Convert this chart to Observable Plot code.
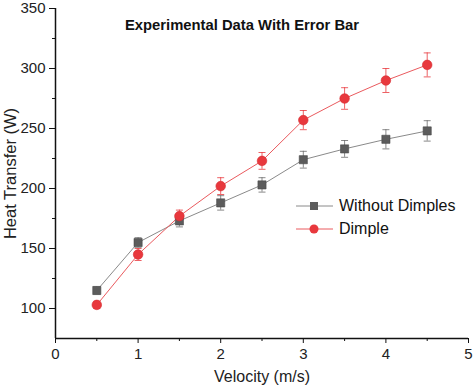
<!DOCTYPE html>
<html>
<head>
<meta charset="utf-8">
<script src="https://cdn.jsdelivr.net/npm/d3@7"></script>
<script src="https://cdn.jsdelivr.net/npm/@observablehq/plot@0.6"></script>
<style>
  html, body { margin: 0; padding: 0; background: #fff; }
  #wrap { position: relative; width: 474px; height: 392px; font-family: "Liberation Sans", Arial, sans-serif; }
  #legend { position: absolute; left: 296px; top: 194px; font-size: 16px; color: #111; }
  #legend .row { display: flex; align-items: center; height: 23px; }
  #legend svg { margin-right: 6px; }
</style>
</head>
<body>
<div id="wrap"></div>
<script>
const velocity = [0.5, 1, 1.5, 2, 2.5, 3, 3.5, 4, 4.5];
const withoutDimples = [115, 155, 173, 188, 203, 224, 233, 241, 248];
const withoutErr = [3, 4, 5, 6, 6, 7, 7, 8, 8.5];
const dimple = [103, 145, 177, 202, 223, 257, 275, 290, 303];
const dimpleErr = [3, 5, 5, 7, 7, 8, 9, 10, 10];
const seriesNames = ["Without Dimples", "Dimple"];
const xTicks = [0, 1, 2, 3, 4, 5];
const xMinor = [0.5, 1.5, 2.5, 3.5, 4.5];
const yTicks = [100, 150, 200, 250, 300, 350];
const yMinor = [125, 175, 225, 275, 325];

const gray = "#5c5c5c", grayLine = "#8a8a8a";
const red = "#e8383d", redLine = "#ea5a5e";

const A = velocity.map((v, i) => ({x: v, y: withoutDimples[i], e: withoutErr[i]}));
const B = velocity.map((v, i) => ({x: v, y: dimple[i], e: dimpleErr[i]}));

const capSymbol = {
  draw(ctx, size) {
    const r = Math.sqrt(size / Math.PI);
    ctx.moveTo(-r, 0); ctx.lineTo(r, 0);
  }
};

function errMarks(data, color) {
  return [
    Plot.ruleX(data, {x: "x", y1: d => d.y - d.e, y2: d => d.y + d.e, stroke: color, strokeWidth: 0.8}),
    Plot.dot(data, {x: "x", y: d => d.y - d.e, symbol: capSymbol, r: 3.5, stroke: color, strokeWidth: 0.8, fill: "none"}),
    Plot.dot(data, {x: "x", y: d => d.y + d.e, symbol: capSymbol, r: 3.5, stroke: color, strokeWidth: 0.8, fill: "none"})
  ];
}

const noLabel = () => "";

const chart = Plot.plot({
  width: 474,
  height: 392,
  marginLeft: 55,
  marginRight: 6,
  marginTop: 8,
  marginBottom: 54,
  style: {fontFamily: "Liberation Sans, Arial, sans-serif", background: "#fff", color: "#111"},
  x: {domain: [0, 5]},
  y: {domain: [75, 350]},
  marks: [
    Plot.axisX({ticks: xTicks, tickSize: 5, tickPadding: 5, fontSize: 15, fill: "#222", label: null, tickFormat: d => String(d)}),
    Plot.axisX({ticks: xMinor, tickSize: 3, tickFormat: noLabel, label: null}),
    Plot.axisY({ticks: yTicks, tickSize: 6, tickPadding: 4, fontSize: 15, fill: "#222", label: null}),
    Plot.axisY({ticks: yMinor, tickSize: 3, tickFormat: noLabel, label: null}),
    Plot.ruleY([75], {stroke: "#111", strokeWidth: 1.5}),
    Plot.ruleX([0], {stroke: "#111", strokeWidth: 1.5}),
    Plot.text(["Velocity (m/s)"], {frameAnchor: "bottom", dy: 43, fontSize: 16, fill: "#222"}),
    Plot.text(["Heat Transfer (W)"], {frameAnchor: "left", textAnchor: "middle", dx: -45, rotate: -90, fontSize: 16.5, fill: "#222"}),
    Plot.text(["Experimental Data With Error Bar"], {frameAnchor: "top", dy: 11, dx: -20, fontSize: 14.8, fontWeight: "bold", fill: "#111"}),
    ...errMarks(A, "#6a6a6a"),
    ...errMarks(B, red),
    Plot.line(A, {x: "x", y: "y", stroke: grayLine, strokeWidth: 1}),
    Plot.line(B, {x: "x", y: "y", stroke: redLine, strokeWidth: 1}),
    Plot.dot(A, {x: "x", y: "y", symbol: "square", r: 4.6, fill: gray, stroke: "#4a4a4a", strokeWidth: 0.6}),
    Plot.dot(B, {x: "x", y: "y", symbol: "circle", r: 4.8, fill: red, stroke: "#d62d32", strokeWidth: 0.6})
  ]
});

const wrap = document.getElementById("wrap");
wrap.appendChild(chart);

const legend = document.createElement("div");
legend.id = "legend";
const symbols = [
  `<rect x="14" y="5" width="8" height="8" fill="${gray}"/>`,
  `<circle cx="18" cy="9" r="4.5" fill="${red}"/>`
];
const lineColors = [grayLine, redLine];
seriesNames.forEach((name, i) => {
  const row = document.createElement("div");
  row.className = "row";
  row.innerHTML = `<svg width="37" height="18"><line x1="0" y1="9" x2="37" y2="9" stroke="${lineColors[i]}" stroke-width="1"/>${symbols[i]}</svg><span>${name}</span>`;
  legend.appendChild(row);
});
wrap.appendChild(legend);
</script>
</body>
</html>
